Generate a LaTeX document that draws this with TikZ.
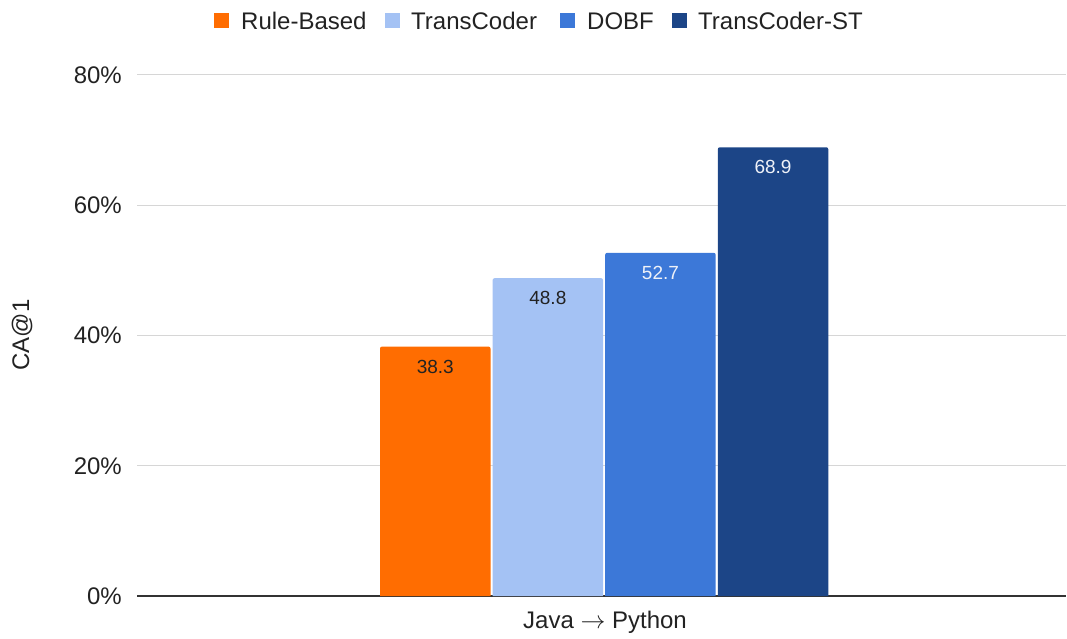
\documentclass[tikz,border=0pt]{standalone}
\usepackage{fontspec}
\setmainfont{Liberation Sans}
\definecolor{rulebased}{HTML}{FF6D01}
\definecolor{transcoder}{HTML}{A4C2F4}
\definecolor{dobf}{HTML}{3C78D8}
\definecolor{transcoderst}{HTML}{1C4587}
\definecolor{gridgray}{HTML}{D6D6D6}
\definecolor{axisgray}{HTML}{333333}
\definecolor{textdark}{HTML}{222222}
\definecolor{textlight}{HTML}{EEF1F8}

\begin{document}
\begin{tikzpicture}[x=1pt, y=-1pt,
  ticklabel/.style={anchor=east, inner sep=0pt, font=\fontsize{24}{28}\selectfont, text=textdark},
  legendlabel/.style={anchor=west, inner sep=0pt, font=\fontsize{24}{28}\selectfont, text=textdark},
  legendbox/.style={minimum size=15, inner sep=0pt},
  barlabel/.style={inner sep=0pt, font=\fontsize{19}{22}\selectfont}]
  \useasboundingbox (0,0) rectangle (1067,639);

  % grid lines and tick labels
  \foreach \p/\y in {20/465.75, 40/335.5, 60/205.25, 80/75} {
    \draw[gridgray, line width=1] (137,\y) -- (1066,\y);
  }
  \foreach \p/\y in {0/596, 20/465.75, 40/335.5, 60/205.25, 80/75} {
    \node[ticklabel] (tick\p) at (122,\y) {\p\%};
  }
  \draw[axisgray, line width=1.3] (137,596) -- (1066,596);

  % bars
  \foreach \i/\v/\c/\t in {0/38.3/rulebased/textdark, 1/48.8/transcoder/textdark,
                           2/52.7/dobf/textlight, 3/68.9/transcoderst/textlight} {
    \pgfmathsetmacro{\bx}{380+112.6*\i}
    \pgfmathsetmacro{\btop}{596-6.5125*\v}
    \fill[\c, rounded corners=2] (\bx,596) -- (\bx,\btop) -- (\bx+110.5,\btop) -- (\bx+110.5,596);
    \node[barlabel, text=\t] (val\i) at (\bx+55.25,\btop+20) {\v};
  }

  % legend
  \node[legendbox, fill=rulebased] (boxrule) at (221.5,21) {};
  \node[legendlabel] (lgrule) at (241,21) {Rule-Based};
  \node[legendbox, fill=transcoder] (boxtc) at (392.5,21) {};
  \node[legendlabel] (lgtc) at (411,21) {TransCoder};
  \node[legendbox, fill=dobf] (boxdobf) at (567.5,21) {};
  \node[legendlabel] (lgdobf) at (587,21) {DOBF};
  \node[legendbox, fill=transcoderst] (boxtcst) at (679.5,21) {};
  \node[legendlabel] (lgtcst) at (698,21) {TransCoder-ST};

  % axis titles
  \node[rotate=90, font=\fontsize{24}{28}\selectfont, text=textdark] (ylabel) at (22,335) {CA@1};
  \node[font=\fontsize{24}{28}\selectfont, text=textdark] (xlabel) at (605,622) {Java $\rightarrow$ Python};
\end{tikzpicture}
\end{document}
